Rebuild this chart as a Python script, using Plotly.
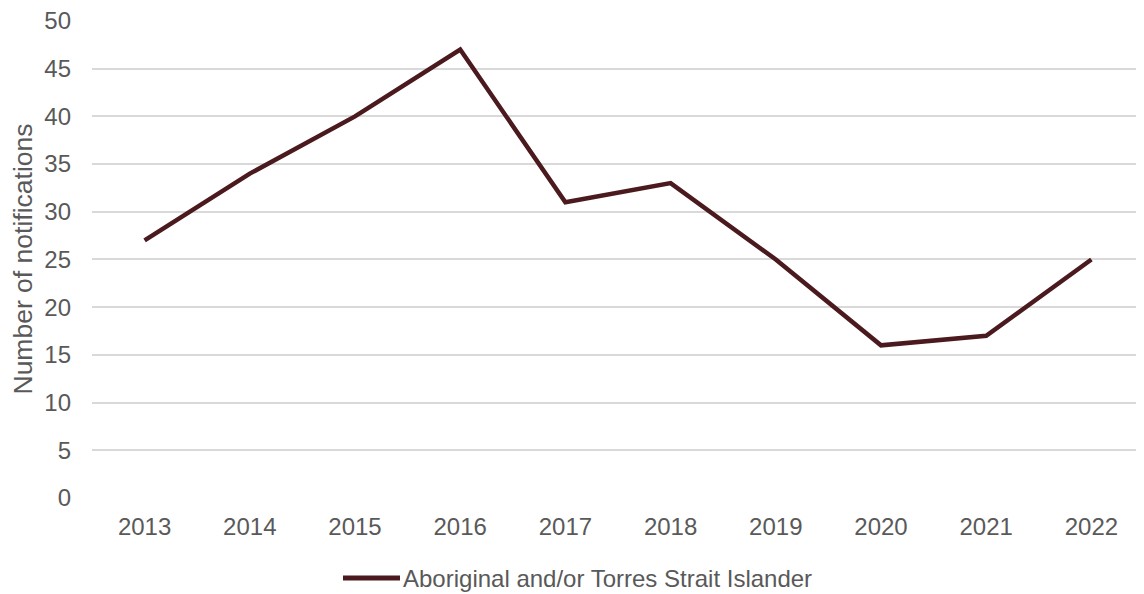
import plotly.graph_objects as go

years = ["2013", "2014", "2015", "2016", "2017", "2018", "2019", "2020", "2021", "2022"]
notifications = [27, 34, 40, 47, 31, 33, 25, 16, 17, 25]
series_name = "Aboriginal and/or Torres Strait Islander"
y_ticks = [0, 5, 10, 15, 20, 25, 30, 35, 40, 45, 50]

line_color = "#4b1a1e"
text_color = "#595959"
font_family = "Liberation Sans, Arial, sans-serif"

# page has an 8px body margin; compensate so the figure fills the 1144x594 window
OFF = 8
W, H = 1144 - OFF, 594 - OFF
ml, mr, mt, mb = 92 - OFF, 0, 20 - OFF, 96
ph = H - mt - mb
pw = W - ml - mr

fig = go.Figure()
fig.add_trace(go.Scatter(
    x=years, y=notifications, mode="lines", name=series_name,
    line=dict(color=line_color, width=4.5), showlegend=False,
))

fig.update_layout(
    width=W, height=H,
    margin=dict(l=ml, r=mr, t=mt, b=mb, autoexpand=False),
    plot_bgcolor="white", paper_bgcolor="white",
    font=dict(family=font_family, size=24, color=text_color),
    xaxis=dict(
        type="category", range=[-0.5, len(years) - 0.5],
        showgrid=False, zeroline=False, showline=False,
        ticks="", ticklabelstandoff=12,
        tickfont=dict(size=24, color=text_color),
    ),
    yaxis=dict(
        range=[0, 50.1], tickvals=y_ticks, showgrid=True, gridcolor="#d9d9d9",
        gridwidth=2, zeroline=False, showline=False, ticks="",
        ticklabelstandoff=20, ticklabeloverflow="allow",
        tickfont=dict(size=24, color=text_color),
        title=dict(text="Number of notifications", font=dict(size=26.5, color=text_color), standoff=10),
    ),
)

# legend drawn manually to match the long line key
ly = ((H - mb) - (578 - OFF)) / ph
fig.add_shape(type="line", xref="paper", yref="paper",
              x0=(343 - OFF - ml) / pw, x1=(400 - OFF - ml) / pw, y0=ly, y1=ly,
              line=dict(color=line_color, width=5))
fig.add_annotation(xref="paper", yref="paper", x=(401 - OFF - ml) / pw, y=ly,
                   xanchor="left", yanchor="middle", showarrow=False,
                   text=series_name, font=dict(size=24, color=text_color))

fig.write_html("out.html")
